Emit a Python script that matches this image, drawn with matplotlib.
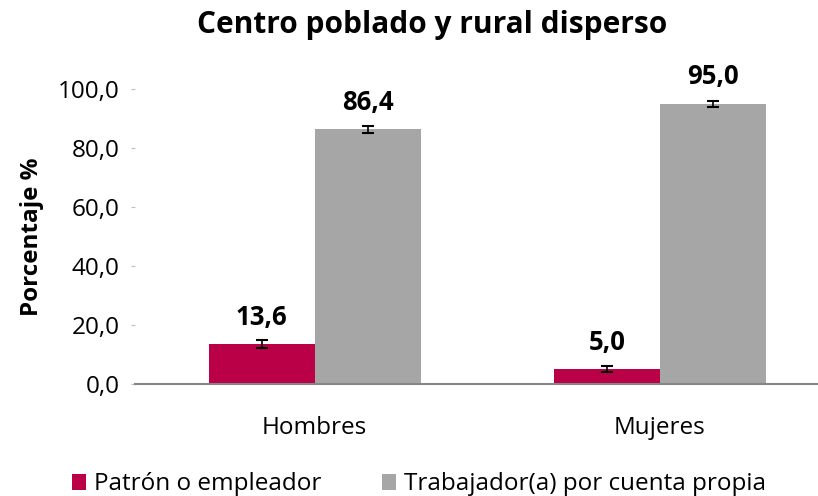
import numpy as np
import matplotlib
matplotlib.use("Agg")
import matplotlib.pyplot as plt

plt.rcParams['font.family'] = ['Open Sans', 'DejaVu Sans']

categorias = ["Hombres", "Mujeres"]
series = ["Patrón o empleador", "Trabajador(a) por cuenta propia"]
patron = [13.6, 5.0]
cuenta_propia = [86.4, 95.0]
err_patron = [1.4, 1.1]
err_cuenta_propia = [1.2, 1.0]
yticks = [0, 20, 40, 60, 80, 100]

colores = ["#BA0047", "#A6A6A6"]

fig = plt.figure(figsize=(8.18, 4.96), dpi=100)
ax = fig.add_axes([135 / 818, 1 - 384 / 496, (818 - 135) / 818, (384 - 89) / 496])

x = np.arange(len(categorias))
ancho = 0.307

valores = [patron, cuenta_propia]
errores = [err_patron, err_cuenta_propia]
for i, (vals, errs) in enumerate(zip(valores, errores)):
	pos = x + (i - 0.5) * ancho
	ax.bar(pos, vals, ancho, color=colores[i], label=series[i], zorder=2)
	ax.errorbar(pos, vals, yerr=errs, fmt='none', ecolor='black',
				elinewidth=1.2, capsize=4, capthick=1.5, zorder=3)
	for p, v in zip(pos, vals):
		ax.text(p, v + 4.5, f"{v:.1f}".replace('.', ','), ha='center', va='bottom',
				fontsize=18.5, fontweight='bold')

ax.set_ylim(0, 100)
ax.set_xlim(-0.52, 1.458)
ax.set_yticks(yticks)
ax.set_yticklabels([f"{t:.1f}".replace('.', ',') for t in yticks], fontsize=17.5)
ax.set_xticks(x)
ax.set_xticklabels(categorias, fontsize=17.5)
ax.tick_params(axis='x', length=0, pad=23)
ax.tick_params(axis='y', length=3, color='#BFBFBF', pad=8)

for s in ['top', 'right', 'left']:
	ax.spines[s].set_visible(False)
ax.spines['bottom'].set_color('#868686')
ax.spines['bottom'].set_linewidth(1.5)

ax.set_ylabel("Porcentaje %", fontsize=17.5, fontweight='bold', labelpad=10)
fig.suptitle("Centro poblado y rural disperso", fontsize=21.5, fontweight='bold',
			 x=0.528, y=0.98)

fig.legend(loc='lower center', bbox_to_anchor=(0.512, -0.045), ncol=2, frameon=False,
		   fontsize=17.5, handlelength=0.6, handleheight=0.6, handletextpad=0.3,
		   columnspacing=2.5)

fig.savefig("out.png", dpi=100)
